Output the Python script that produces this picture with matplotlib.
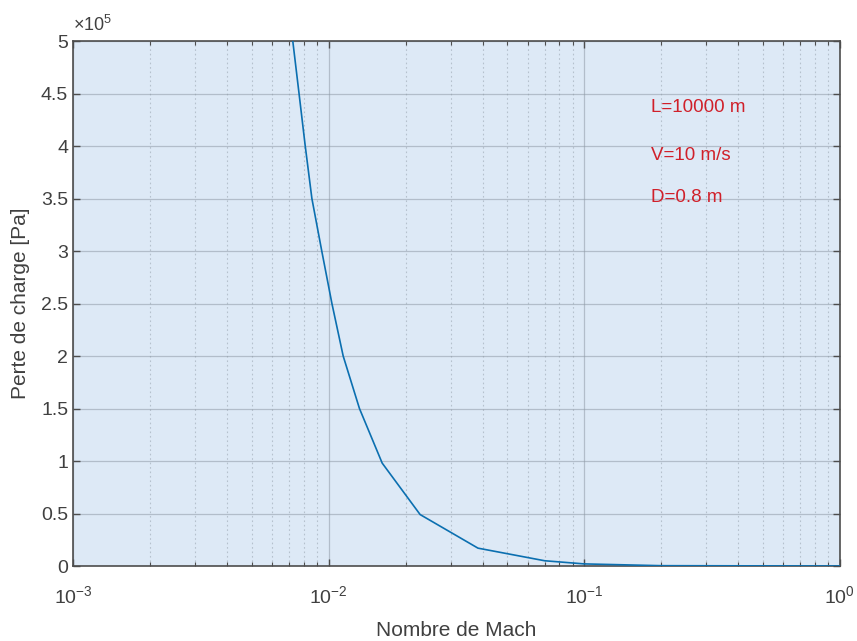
import matplotlib
matplotlib.use("Agg")
import matplotlib.pyplot as plt
from matplotlib.ticker import LogLocator, NullFormatter, FixedLocator

plt.rcParams['font.family'] = ['Liberation Sans', 'DejaVu Sans']
plt.rcParams['mathtext.fontset'] = 'custom'
plt.rcParams['mathtext.rm'] = 'Liberation Sans'
plt.rcParams['mathtext.it'] = 'Liberation Sans:italic'

# Pressure loss along the pipe versus Mach number
mach = [0.00724, 0.00766, 0.0081, 0.0086, 0.0094, 0.0103, 0.0114, 0.0132,
        0.0162, 0.0228, 0.0384, 0.070, 0.100, 0.200, 1.0]
perte = [5.0e5, 4.5e5, 4.0e5, 3.5e5, 3.0e5, 2.5e5, 2.0e5, 1.5e5,
         0.98e5, 0.49e5, 0.17e5, 0.05e5, 0.02e5, 0.003e5, 0.0]

y_ticks = [0, 0.5e5, 1e5, 1.5e5, 2e5, 2.5e5, 3e5, 3.5e5, 4e5, 4.5e5, 5e5]
y_labels = ['0', '0.5', '1', '1.5', '2', '2.5', '3', '3.5', '4', '4.5', '5']

params = ['L=10000 m', 'V=10 m/s', 'D=0.8 m']
params_y = [4.37e5, 3.91e5, 3.51e5]

axis_col = '#4d4d4d'
text_col = '#404040'

fig = plt.figure(figsize=(8.57, 6.41), dpi=100)
ax = fig.add_axes([0.0852, 0.117, 0.8948, 0.819])
ax.set_facecolor('#dde9f6')

ax.plot(mach, perte, color='#0b6fb0', linewidth=1.2, zorder=3)

ax.set_xscale('log')
ax.set_xlim(1e-3, 1)
ax.set_ylim(0, 5e5)
ax.xaxis.set_major_locator(LogLocator(base=10, numticks=10))
ax.xaxis.set_minor_locator(LogLocator(base=10, subs=range(2, 10), numticks=30))
ax.xaxis.set_minor_formatter(NullFormatter())
ax.yaxis.set_major_locator(FixedLocator(y_ticks))
ax.set_yticklabels(y_labels)

ax.grid(True, which='major', color='#8f9aa6', alpha=0.55, linewidth=0.9)
ax.grid(True, which='minor', axis='x', color='#8f9aa6', alpha=0.5,
        linestyle=(0, (1.5, 2.5)), linewidth=0.8)
ax.set_axisbelow(True)

for side in ax.spines.values():
    side.set_color(axis_col)
    side.set_linewidth(1.2)

ax.tick_params(which='both', direction='in', top=True, right=True,
               colors=axis_col, labelcolor=text_col, labelsize=14)
ax.tick_params(which='major', length=5, width=1.0)
ax.tick_params(which='minor', length=3, width=0.8)
ax.tick_params(axis='x', pad=14)

ax.set_xlabel('Nombre de Mach', fontsize=15, color=text_col, labelpad=10)
ax.set_ylabel('Perte de charge [Pa]', fontsize=15, color=text_col, labelpad=8)

ax.text(0.0, 1.012, r'$\times10^{5}$', transform=ax.transAxes, fontsize=13,
        color=text_col, ha='left', va='bottom')

for label, yv in zip(params, params_y):
    ax.text(0.182, yv, label, color='#d0202a', fontsize=13.5, ha='left', va='center')

fig.savefig('out.png', dpi=100)
